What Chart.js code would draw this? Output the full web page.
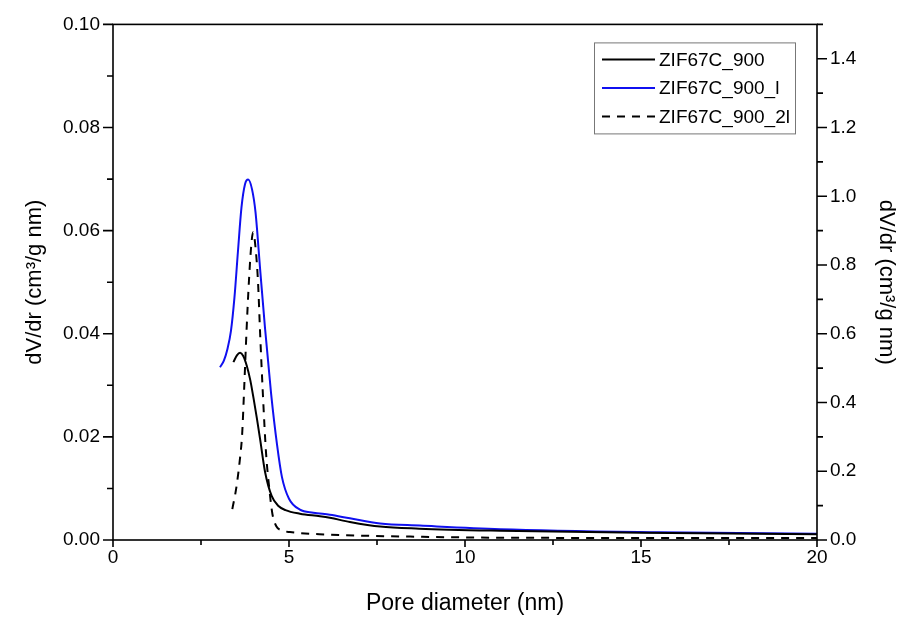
<!DOCTYPE html>
<html lang="en">
  <head>
    <meta charset="UTF-8" />
    <title>Pore size distribution</title>
    <script src="https://cdn.jsdelivr.net/npm/chart.js@4"></script>
    <style>
      html, body { margin: 0; padding: 0; background: #fff; }
      #wrap { width: 909px; height: 617px; }
    </style>
  </head>
  <body>
    <div id="wrap"><canvas id="psdChart" width="909" height="617"></canvas></div>

    <script>
      // values
      const poreBlack = [3.42, 3.52, 3.61, 3.70, 3.80, 3.90, 3.99, 4.09, 4.18, 4.32, 4.51, 4.70, 4.90, 5.31, 5.88, 6.16, 6.73, 7.59, 8.7, 11.0, 15.0, 20.0];
      const dvBlack = [0.0345, 0.0358, 0.0363, 0.0357, 0.0338, 0.0310, 0.0276, 0.0235, 0.0195, 0.0132, 0.0085, 0.0066, 0.0058, 0.0051, 0.0046, 0.0043, 0.0035, 0.0026, 0.0022, 0.0018, 0.0014, 0.0011];

      const poreBlue = [3.04, 3.15, 3.25, 3.35, 3.45, 3.55, 3.65, 3.75, 3.84, 3.95, 4.05, 4.18, 4.32, 4.49, 4.66, 4.80, 5.00, 5.31, 5.69, 6.16, 6.73, 7.59, 8.72, 11.0, 15.5, 20.0];
      const dvBlue = [0.0335, 0.0348, 0.0370, 0.0405, 0.0470, 0.0560, 0.0645, 0.0690, 0.0699, 0.0680, 0.0635, 0.0525, 0.0410, 0.0285, 0.0185, 0.0122, 0.0080, 0.0059, 0.0053, 0.0049, 0.0042, 0.0032, 0.0028, 0.0021, 0.0015, 0.0012];

      // dashed one is read on the right axis
      const pore2l = [3.39, 3.50, 3.60, 3.67, 3.73, 3.79, 3.86, 3.93, 3.98, 4.05, 4.12, 4.18, 4.26, 4.35, 4.44, 4.53, 4.64, 4.80, 5.03, 6.07, 8.72, 11.0, 15.0, 20.0];
      const dv2l = [0.090, 0.150, 0.230, 0.310, 0.450, 0.600, 0.750, 0.860, 0.895, 0.850, 0.750, 0.600, 0.420, 0.250, 0.150, 0.075, 0.040, 0.028, 0.023, 0.016, 0.0095, 0.0067, 0.006, 0.006];

      const seriesNames = ["ZIF67C_900", "ZIF67C_900_l", "ZIF67C_900_2l"];
      const xTickValues = [0, 5, 10, 15, 20];

      const FONT = "'Liberation Sans', Arial, sans-serif";

      function toPoints(xs, ys) {
        return xs.map((x, i) => ({ x: x, y: ys[i] }));
      }

      // frame, ticks (major + minor) and the boxed legend
      const framePlugin = {
        id: "frame",
        afterDraw(chart) {
          const ctx = chart.ctx;
          const a = chart.chartArea;
          const sx = chart.scales.x, sy = chart.scales.y, sy1 = chart.scales.y1;
          ctx.save();
          ctx.strokeStyle = "#000";
          ctx.lineWidth = 1.6;
          ctx.strokeRect(a.left, a.top, a.right - a.left, a.bottom - a.top);

          ctx.beginPath();
          for (let v = 0; v <= 20.001; v += 2.5) {
            const px = sx.getPixelForValue(v);
            const len = Math.abs(v % 5) < 0.01 ? 7 : 5;
            ctx.moveTo(px, a.bottom);
            ctx.lineTo(px, a.bottom + len);
          }
          for (let i = 0; i <= 10; i++) {
            const py = sy.getPixelForValue(i * 0.01);
            const len = i % 2 === 0 ? 10 : 6;
            ctx.moveTo(a.left, py);
            ctx.lineTo(a.left - len, py);
          }
          for (let i = 0; i <= 15; i++) {
            const py = sy1.getPixelForValue(i * 0.1);
            const len = i % 2 === 0 ? 10 : 6;
            ctx.moveTo(a.right, py);
            ctx.lineTo(a.right + len, py);
          }
          ctx.stroke();

          // legend box
          const bx = a.right - 223, by = a.top + 18, bw = 201, bh = 91;
          ctx.lineWidth = 1;
          ctx.strokeStyle = "#777";
          ctx.strokeRect(bx + 0.5, by + 0.5, bw, bh);
          ctx.font = "19px " + FONT;
          ctx.textBaseline = "middle";
          ctx.fillStyle = "#000";
          chart.data.datasets.forEach((ds, i) => {
            const ry = by + 17 + i * 28.5;
            ctx.beginPath();
            ctx.strokeStyle = ds.borderColor;
            ctx.lineWidth = 2;
            ctx.setLineDash(ds.borderDash || []);
            ctx.moveTo(bx + 8, ry);
            ctx.lineTo(bx + 61, ry);
            ctx.stroke();
            ctx.setLineDash([]);
            ctx.fillText(ds.label, bx + 65, ry + 1);
          });
          ctx.restore();
        },
      };

      const ctx = document.getElementById("psdChart").getContext("2d");

      const psdChart = new Chart(ctx, {
        type: "line",
        data: {
          datasets: [
            {
              label: seriesNames[0],
              data: toPoints(poreBlack, dvBlack),
              borderColor: "#000000",
              borderWidth: 2,
              yAxisID: "y",
            },
            {
              label: seriesNames[1],
              data: toPoints(poreBlue, dvBlue),
              borderColor: "#1010f0",
              borderWidth: 2,
              yAxisID: "y",
            },
            {
              label: seriesNames[2],
              data: toPoints(pore2l, dv2l),
              borderColor: "#000000",
              borderWidth: 2,
              borderDash: [8, 7],
              yAxisID: "y1",
            },
          ],
        },
        options: {
          responsive: false,
          animation: false,
          layout: { padding: { top: 18, left: 0, right: 0, bottom: 0 } },
          elements: {
            point: { radius: 0 },
            line: { cubicInterpolationMode: "monotone", fill: false },
          },
          plugins: {
            legend: { display: false },
            tooltip: { enabled: false },
          },
          scales: {
            x: {
              type: "linear",
              min: 0,
              max: 20,
              afterBuildTicks(scale) {
                scale.ticks = xTickValues.map((v) => ({ value: v }));
              },
              grid: { display: false, drawTicks: false },
              border: { display: false },
              ticks: { color: "#000", font: { family: FONT, size: 19 }, padding: 6, maxRotation: 0 },
              title: {
                display: true,
                text: "Pore diameter (nm)",
                color: "#000",
                font: { family: FONT, size: 23 },
                padding: { top: 4, bottom: 0 },
              },
              afterFit(scale) { scale.height = 77; },
            },
            y: {
              position: "left",
              min: 0,
              max: 0.1,
              grid: { display: false, drawTicks: false },
              border: { display: false },
              ticks: {
                stepSize: 0.02,
                color: "#000",
                font: { family: FONT, size: 19 },
                padding: 13,
                callback: (v) => v.toFixed(2),
              },
              title: {
                display: true,
                text: "dV/dr (cm³/g nm)",
                color: "#000",
                font: { family: FONT, size: 22 },
                padding: { top: 22, bottom: 0 },
              },
              afterFit(scale) { scale.width = 113; },
            },
            y1: {
              position: "right",
              min: 0,
              max: 1.5,
              grid: { display: false, drawTicks: false },
              border: { display: false },
              ticks: {
                stepSize: 0.2,
                includeBounds: false,
                color: "#000",
                font: { family: FONT, size: 19 },
                padding: 13,
                callback: (v) => v.toFixed(1),
              },
              title: {
                display: true,
                text: "dV/dr (cm³/g nm)",
                color: "#000",
                font: { family: FONT, size: 22 },
                padding: { top: 10, bottom: 0 },
              },
              afterFit(scale) { scale.width = 92; },
            },
          },
        },
        plugins: [framePlugin],
      });
    </script>
  </body>
</html>
